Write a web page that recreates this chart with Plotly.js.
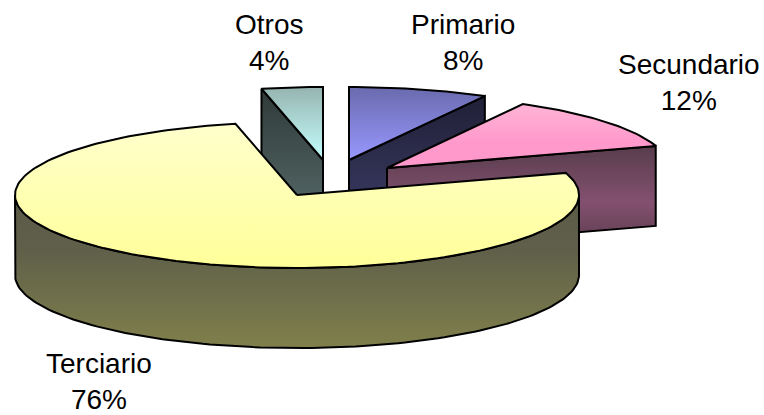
<!DOCTYPE html>
<html><head><meta charset="utf-8">
<script src="https://cdn.plot.ly/plotly-3.0.1.min.js"></script>
<style>html,body{margin:0;padding:0;background:#fff}#c{width:764px;height:415px}</style>
</head><body><div id="c"></div>
<script>
// Data
const categories = ['Primario','Secundario','Terciario','Otros'];
const values = [8.0, 12.1, 76.4, 3.5];
const tickLabels = ['8%','12%','76%','4%'];

// Styles / layout constants
const RX = 282, RY = 73, DEPTH = 80;
const centers = [[349,160],[387,168],[297,195],[323,160]];
const labelPos = [[463,42],[689,82],[99,381],[269,42]];
const drawOrder = [3,0,1,2];
// stops run from the top of each shape to its bottom
const topScale = [
  [[0,'#6a6aae'],[1,'#9898ff']],
  [[0,'#ffb4d6'],[0.6,'#ff99cc'],[1,'#ff99cc']],
  [[0,'#ffffcc'],[1,'#ffff99']],
  [[0,'#96b4b0'],[1,'#c4ffff']]
];
const wallScale = [
  [[0,'#1f1f36'],[1,'#40406c']],
  [[0,'#573d4c'],[0.55,'#845070'],[1,'#5a3c4c']],
  [[0,'#5a5a48'],[0.35,'#5f5f4a'],[1,'#80804c']],
  [[0,'#2e3a38'],[1,'#5c7070']]
];

const rad = d => d*Math.PI/180;
function rim(c, a, dz){ return [c[0]+RX*Math.sin(rad(a)), c[1]-RY*Math.cos(rad(a))+(dz||0)]; }
function arc(c, a0, a1, dz){
  const n = Math.max(2, Math.ceil(Math.abs(a1-a0)/1.5)), out=[];
  for(let i=0;i<=n;i++) out.push(rim(c, a0+(a1-a0)*i/n, dz));
  return out;
}
const flip = s => s.map(([t,col])=>[1-t,col]).reverse();
function poly(pts, scale){
  const closed = pts.concat([pts[0]]);
  return {type:'scatter', mode:'lines', x:closed.map(p=>p[0]), y:closed.map(p=>p[1]),
    fill:'toself', line:{color:'#000',width:2,shape:'linear'},
    fillgradient:{type:'vertical', colorscale:flip(scale)},
    hoverinfo:'skip', showlegend:false};
}

const total = values.reduce((a,b)=>a+b,0);
let acc = 0;
const slices = values.map(v=>{const a0=acc/total*360; acc+=v; return [a0, acc/total*360];});
const traces = [];
drawOrder.forEach(i=>{
  const [a0,a1] = slices[i], c = centers[i];
  const radialFace = a => {
    const r = rim(c,a), rb = rim(c,a,DEPTH);
    return [[c[0],c[1]], r, rb, [c[0],c[1]+DEPTH]];
  };
  if(Math.sin(rad(a0)) < -1e-6) traces.push(poly(radialFace(a0), wallScale[i]));
  if(Math.sin(rad(a1)) > 1e-6) traces.push(poly(radialFace(a1), wallScale[i]));
  const f0 = Math.max(a0,90), f1 = Math.min(a1,270);
  if(f1 > f0) traces.push(poly(arc(c,f0,f1,0).concat(arc(c,f1,f0,DEPTH)), wallScale[i]));
  traces.push(poly([[c[0],c[1]]].concat(arc(c,a0,a1,0)), topScale[i]));
});

const annotations = categories.map((name,i)=>({
  xref:'x', yref:'y', x:labelPos[i][0], y:labelPos[i][1],
  text:name+'<br>'+tickLabels[i], showarrow:false, xanchor:'center', yanchor:'middle', align:'center',
  font:{family:'Liberation Sans, Arial, sans-serif', size:28, color:'#000'}
}));

Plotly.newPlot('c', traces, {
  width:764, height:415, margin:{l:0,r:0,t:0,b:0},
  paper_bgcolor:'#fff', plot_bgcolor:'#fff', showlegend:false,
  xaxis:{range:[0,764], visible:false, fixedrange:true},
  yaxis:{range:[415,0], visible:false, fixedrange:true},
  annotations
}, {displayModeBar:false, staticPlot:true});
</script></body></html>
